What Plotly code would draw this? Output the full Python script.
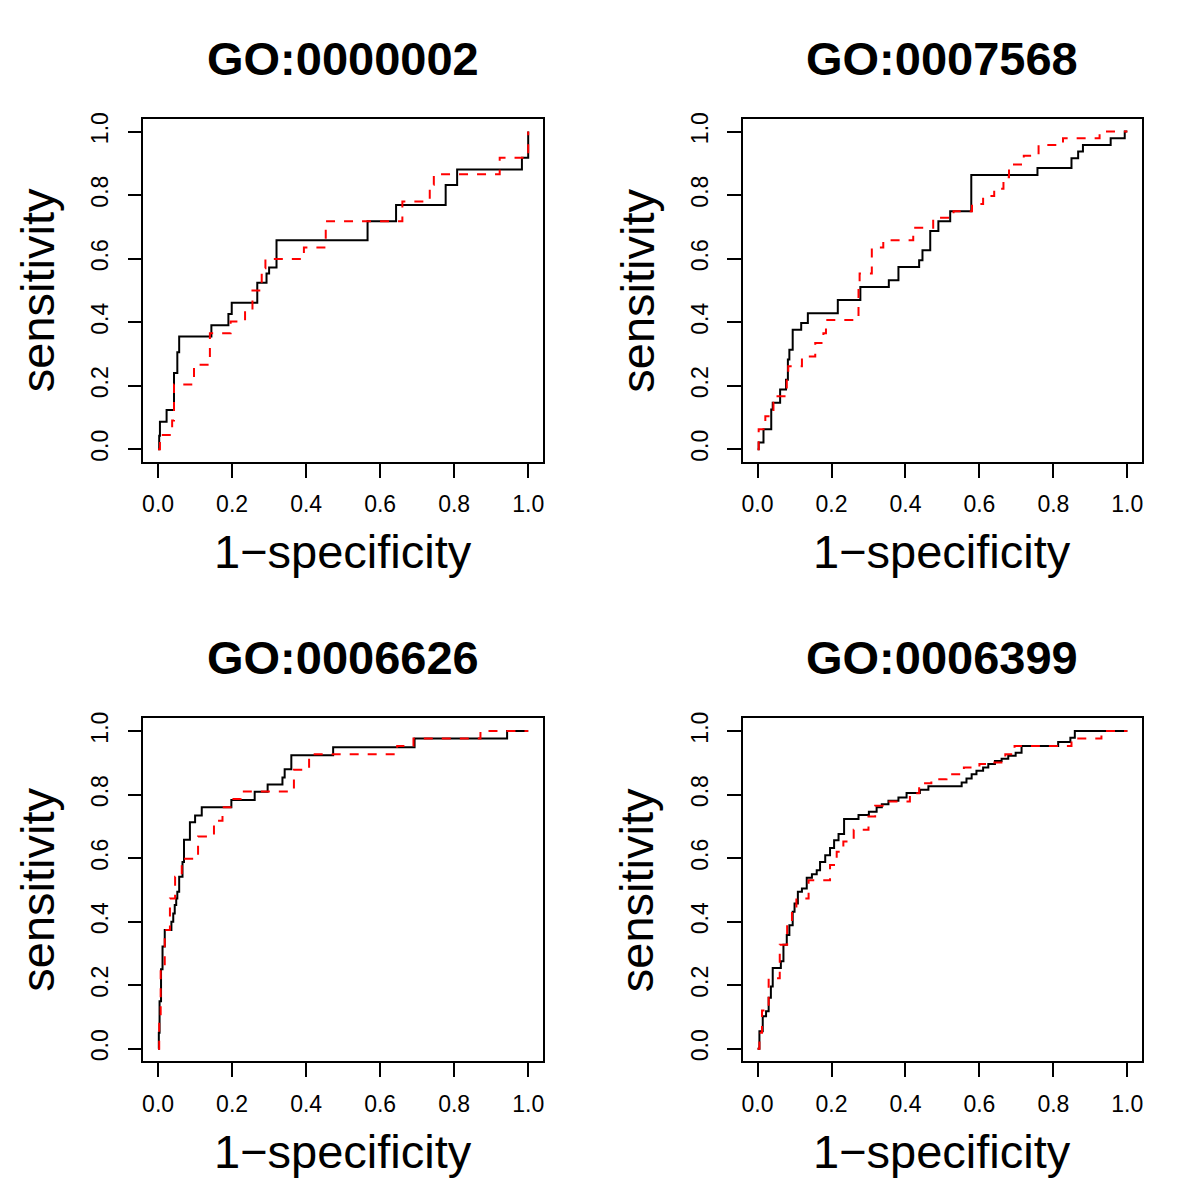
import plotly.graph_objects as go

TITLES = ["GO:0000002", "GO:0007568", "GO:0006626", "GO:0006399"]
X_TITLE = "1\u2212specificity"
Y_TITLE = "sensitivity"
TICK_VALS = [0.0, 0.2, 0.4, 0.6, 0.8, 1.0]
TICK_TEXT = ["0.0", "0.2", "0.4", "0.6", "0.8", "1.0"]

# Panel 1: GO:0000002
P1_BLACK_FPR = [0, 0.003, 0.005, 0.023, 0.043, 0.052, 0.057, 0.144, 0.19, 0.199, 0.268, 0.293, 0.300, 0.320, 0.566, 0.643, 0.777, 0.808, 0.983, 1.0]
P1_BLACK_TPR = [0, 0.042, 0.086, 0.123, 0.240, 0.305, 0.355, 0.390, 0.426, 0.461, 0.524, 0.553, 0.572, 0.658, 0.718, 0.769, 0.832, 0.881, 0.918, 1.0]
P1_RED_FPR = [0, 0.005, 0.038, 0.043, 0.097, 0.140, 0.196, 0.235, 0.255, 0.280, 0.290, 0.394, 0.453, 0.660, 0.734, 0.745, 0.923, 1.0]
P1_RED_TPR = [0, 0.045, 0.090, 0.204, 0.266, 0.365, 0.402, 0.438, 0.500, 0.570, 0.599, 0.635, 0.718, 0.780, 0.833, 0.866, 0.918, 1.0]

# Panel 2: GO:0007568
P2_BLACK_FPR = [0, 0.003, 0.016, 0.037, 0.041, 0.061, 0.077, 0.082, 0.086, 0.095, 0.118, 0.136, 0.217, 0.278, 0.355, 0.381, 0.437, 0.446, 0.467, 0.489, 0.521, 0.578, 0.757, 0.849, 0.867, 0.880, 0.955, 0.993, 1.0]
P2_BLACK_TPR = [0, 0.021, 0.063, 0.125, 0.146, 0.188, 0.219, 0.282, 0.313, 0.376, 0.397, 0.428, 0.470, 0.511, 0.532, 0.574, 0.595, 0.626, 0.687, 0.718, 0.749, 0.863, 0.885, 0.916, 0.937, 0.958, 0.979, 1.0, 1.0]
P2_RED_FPR = [0, 0.003, 0.021, 0.043, 0.048, 0.079, 0.083, 0.120, 0.156, 0.178, 0.185, 0.273, 0.276, 0.309, 0.340, 0.421, 0.475, 0.530, 0.580, 0.610, 0.640, 0.665, 0.680, 0.720, 0.760, 0.826, 0.925, 1.0]
P2_RED_TPR = [0, 0.063, 0.104, 0.146, 0.167, 0.230, 0.261, 0.292, 0.334, 0.365, 0.407, 0.511, 0.553, 0.635, 0.658, 0.697, 0.729, 0.749, 0.772, 0.797, 0.820, 0.856, 0.896, 0.924, 0.958, 0.979, 1.0, 1.0]

# Panel 3: GO:0006626
P3_BLACK_FPR = [0, 0.002, 0.004, 0.008, 0.012, 0.018, 0.036, 0.041, 0.045, 0.049, 0.052, 0.057, 0.066, 0.070, 0.086, 0.100, 0.118, 0.198, 0.261, 0.296, 0.336, 0.342, 0.360, 0.473, 0.693, 0.943, 1.0]
P3_BLACK_TPR = [0, 0.050, 0.149, 0.250, 0.322, 0.374, 0.400, 0.426, 0.452, 0.473, 0.494, 0.541, 0.588, 0.658, 0.713, 0.734, 0.760, 0.783, 0.809, 0.832, 0.854, 0.880, 0.924, 0.949, 0.977, 1.0, 1.0]
P3_RED_FPR = [0, 0.003, 0.007, 0.018, 0.032, 0.046, 0.064, 0.108, 0.151, 0.174, 0.196, 0.223, 0.367, 0.408, 0.646, 0.690, 0.871, 1.0]
P3_RED_TPR = [0, 0.100, 0.253, 0.374, 0.473, 0.541, 0.598, 0.668, 0.718, 0.760, 0.786, 0.810, 0.878, 0.927, 0.953, 0.977, 1.0, 1.0]

# Panel 4: GO:0006399
P4_BLACK_FPR = [0, 0.005, 0.014, 0.023, 0.030, 0.036, 0.041, 0.063, 0.070, 0.079, 0.086, 0.095, 0.100, 0.109, 0.120, 0.133, 0.147, 0.160, 0.169, 0.183, 0.196, 0.207, 0.219, 0.234, 0.273, 0.301, 0.322, 0.336, 0.354, 0.381, 0.403, 0.439, 0.462, 0.552, 0.565, 0.579, 0.592, 0.610, 0.624, 0.642, 0.660, 0.678, 0.698, 0.714, 0.813, 0.846, 0.858, 1.0]
P4_BLACK_TPR = [0, 0.055, 0.102, 0.118, 0.160, 0.196, 0.254, 0.275, 0.327, 0.358, 0.389, 0.431, 0.457, 0.494, 0.504, 0.538, 0.549, 0.562, 0.588, 0.609, 0.632, 0.656, 0.676, 0.723, 0.736, 0.746, 0.760, 0.770, 0.781, 0.791, 0.805, 0.815, 0.826, 0.838, 0.851, 0.864, 0.875, 0.885, 0.896, 0.906, 0.913, 0.922, 0.932, 0.953, 0.966, 0.979, 1.0, 1.0]
P4_RED_FPR = [0, 0.005, 0.012, 0.030, 0.060, 0.080, 0.093, 0.105, 0.138, 0.196, 0.214, 0.232, 0.260, 0.300, 0.318, 0.350, 0.412, 0.437, 0.470, 0.511, 0.558, 0.600, 0.625, 0.670, 0.695, 0.849, 0.930, 1.0]
P4_RED_TPR = [0, 0.050, 0.120, 0.222, 0.327, 0.389, 0.436, 0.473, 0.530, 0.578, 0.620, 0.652, 0.689, 0.731, 0.765, 0.778, 0.804, 0.836, 0.848, 0.864, 0.885, 0.896, 0.901, 0.927, 0.953, 0.977, 1.0, 1.0]

PANELS = [
    (P1_BLACK_FPR, P1_BLACK_TPR, P1_RED_FPR, P1_RED_TPR),
    (P2_BLACK_FPR, P2_BLACK_TPR, P2_RED_FPR, P2_RED_TPR),
    (P3_BLACK_FPR, P3_BLACK_TPR, P3_RED_FPR, P3_RED_TPR),
    (P4_BLACK_FPR, P4_BLACK_TPR, P4_RED_FPR, P4_RED_TPR),
]

W, H = 1200, 1203
OFF = 8  # page body margin
# plot boxes in page pixels (left, right, top, bottom)
BOXES = [
    (142.5, 542.9, 112.5, 457.5),
    (743.0, 1143.0, 112.5, 457.5),
    (142.5, 542.9, 715.5, 1060.5),
    (743.0, 1143.0, 715.5, 1060.5),
]


def px(xp):
    return (xp - OFF) / W


def py(yp):
    return 1 - (yp - OFF) / H


FONT = "Liberation Sans, Arial, sans-serif"
fig = go.Figure()
annotations = []
layout = {}
for i, (bx, by, rx, ry) in enumerate(PANELS):
    n = i + 1
    xa = "x" if n == 1 else f"x{n}"
    ya = "y" if n == 1 else f"y{n}"
    fig.add_trace(go.Scatter(x=bx, y=by, mode="lines", line=dict(color="black", width=2, shape="hv"),
                             xaxis=xa, yaxis=ya, showlegend=False, hoverinfo="skip"))
    fig.add_trace(go.Scatter(x=rx, y=ry, mode="lines", line=dict(color="#FF0000", width=2, shape="hv", dash="9px,9px"),
                             xaxis=xa, yaxis=ya, showlegend=False, hoverinfo="skip"))
    l, r, t, b = BOXES[i]
    common = dict(range=[-0.04, 1.04], showgrid=False, zeroline=False, showline=True, mirror=True,
                  linecolor="black", linewidth=1.5, ticks="outside", ticklen=14, tickwidth=1.5,
                  tickcolor="black", tickvals=TICK_VALS, ticktext=TICK_TEXT,
                  tickfont=dict(family=FONT, size=23, color="black"), fixedrange=True)
    layout["xaxis" if n == 1 else f"xaxis{n}"] = dict(common, domain=[px(l), px(r)], anchor=ya,
                                                      ticklabelstandoff=7)
    layout["yaxis" if n == 1 else f"yaxis{n}"] = dict(common, domain=[py(b), py(t)], anchor=xa,
                                                      tickangle=-90, ticklabelstandoff=10)
    cx = (l + r) / 2
    cy = (t + b) / 2
    annotations.append(dict(text="<b>" + TITLES[i] + "</b>", x=px(cx), y=py(t - 61), xref="paper", yref="paper",
                            showarrow=False, xanchor="center", yanchor="middle",
                            font=dict(family=FONT, size=47, color="black")))
    annotations.append(dict(text=X_TITLE, x=px(cx), y=py(b + 90.5), xref="paper", yref="paper",
                            showarrow=False, xanchor="center", yanchor="middle",
                            font=dict(family=FONT, size=47, color="black")))
    annotations.append(dict(text=Y_TITLE, x=px(l - 105.6), y=py(cy), xref="paper", yref="paper",
                            showarrow=False, xanchor="center", yanchor="middle", textangle=-90,
                            font=dict(family=FONT, size=47, color="black")))

fig.update_layout(width=W, height=H, margin=dict(l=0, r=0, t=0, b=0), paper_bgcolor="white",
                  plot_bgcolor="white", annotations=annotations, **layout)
fig.write_html("out.html")
